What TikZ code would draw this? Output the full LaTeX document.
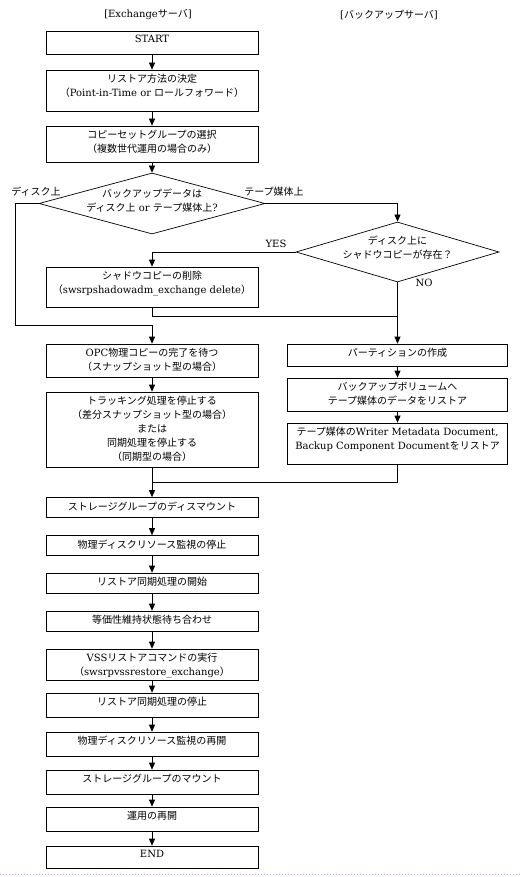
\documentclass[tikz,border=0pt]{standalone}
\usepackage{fontspec}
\setmainfont{DejaVu Serif}
\newfontfamily\jp{Noto Sans CJK JP}
\usetikzlibrary{arrows.meta,shapes.geometric}

\begin{document}
\begin{tikzpicture}[
      x=1pt, y=-1pt, line width=0.7pt,
      font=\fontsize{10}{14}\selectfont,
      box/.style = {draw, minimum width=212pt, inner sep=0pt},
      rbox/.style = {box, minimum width=220pt},
      dia/.style = {draw, diamond, inner sep=0pt},
      txt/.style = {anchor=north, align=center, inner sep=0pt, yshift=-4pt},
      dtxt/.style = {anchor=center, align=center, inner sep=0pt},
      arr/.style = {-{Triangle[width=6pt,length=7pt]}}
    ]
    \fill[white] (0,0) rectangle (520,877);
    \useasboundingbox (0,0) rectangle (520,877);

    % column headers
    \node (hdex) at (148,15) {[Exchange{\jp サーバ}]};
    \node (hdbk) at (389,15) {[{\jp バックアップサーバ}]};

    % left column
    \node[box, minimum height=23pt, label={[txt]north:START}] (start) at (152,42.5) {};
    \node[box, minimum height=41pt, label={[txt]north:{{\jp リストア方法の決定}\\{\jp （}Point-in-Time or {\jp ロールフォワード）}}}] (method) at (152,90.5) {};
    \node[box, minimum height=36pt, label={[txt]north:{{\jp コピーセットグループの選択}\\{\jp （複数世代運用の場合のみ）}}}] (copyset) at (152,144) {};
    \node[dia, minimum width=226pt, minimum height=61pt, label={[dtxt, yshift=3pt]center:{{\jp バックアップデータは}\\{\jp ディスク上} or {\jp テープ媒体上}?}}] (q1) at (152,203.5) {};
    \node[dia, minimum width=203pt, minimum height=60pt, label={[dtxt, yshift=4.5pt]center:{{\jp ディスク上に}\\{\jp シャドウコピーが存在？}}}] (q2) at (397.5,252) {};
    \node[box, minimum height=40pt, label={[txt]north:{{\jp シャドウコピーの削除}\\{\jp （}swsrpshadowadm\_exchange delete{\jp ）}}}] (shadow) at (152,287) {};
    \node[box, minimum height=33pt, label={[txt]north:{OPC{\jp 物理コピーの完了を待つ}\\{\jp （スナップショット型の場合）}}}] (opc) at (152,360.5) {};
    \node[box, minimum height=75pt, label={[txt]north:{{\jp トラッキング処理を停止する}\\{\jp （差分スナップショット型の場合）}\\{\jp または}\\{\jp 同期処理を停止する}\\{\jp （同期型の場合）}}}] (tracking) at (152,429.5) {};

    % right column
    \node[rbox, minimum height=22pt, label={[txt]north:{\jp パーティションの作成}}] (partition) at (397.5,355) {};
    \node[rbox, minimum height=33pt, label={[txt]north:{{\jp バックアップボリュームへ}\\{\jp テープ媒体のデータをリストア}}}] (backupvol) at (397.5,394.5) {};
    \node[rbox, minimum height=41pt, label={[txt]north:{{\jp テープ媒体の}Writer Metadata Document,\\Backup Component Document{\jp をリストア}}}] (tapedoc) at (397.5,443.5) {};

    % common steps
    \node[box, minimum height=20pt, label={[txt]north:{\jp ストレージグループのディスマウント}}] (dismount) at (152,507.5) {};
    \node[box, minimum height=20pt, label={[txt]north:{\jp 物理ディスクリソース監視の停止}}] (monitorstop) at (152,545.5) {};
    \node[box, minimum height=20pt, label={[txt]north:{\jp リストア同期処理の開始}}] (syncstart) at (152,583) {};
    \node[box, minimum height=20pt, label={[txt]north:{\jp 等価性維持状態待ち合わせ}}] (equiv) at (152,621) {};
    \node[box, minimum height=31pt, label={[txt]north:{VSS{\jp リストアコマンドの実行}\\{\jp （}swsrpvssrestore\_exchange{\jp ）}}}] (vss) at (152,664.5) {};
    \node[box, minimum height=24pt, label={[txt]north:{\jp リストア同期処理の停止}}] (syncstop) at (152,705) {};
    \node[box, minimum height=24pt, label={[txt]north:{\jp 物理ディスクリソース監視の再開}}] (monitorresume) at (152,744) {};
    \node[box, minimum height=24pt, label={[txt]north:{\jp ストレージグループのマウント}}] (mount) at (152,782) {};
    \node[box, minimum height=24pt, label={[txt]north:{\jp 運用の再開}}] (resume) at (152,819) {};
    \node[box, minimum height=22pt, label={[txt]north:END}] (finish) at (152,857) {};

    % branch labels
    \node (lbdisk) at (36,191.5) {\jp ディスク上};
    \node (lbtape) at (274,191.5) {\jp テープ媒体上};
    \node (lbyes) at (276,243.5) {YES};
    \node (lbno) at (424,283) {NO};

    % junction points
    \coordinate (lcorner) at (15,325);
    \coordinate (lmerge) at (152,325);
    \coordinate (rmerge) at (397.5,316);
    \coordinate (bmerge) at (152,482);

    \draw[arr] (start) -- (method);
    \draw[arr] (method) -- (copyset);
    \draw[arr] (copyset) -- (q1);
    \draw (q1.west) -| (lcorner) -- (lmerge);
    \draw[arr] (lmerge) -- (opc);
    \draw[arr] (q1.east) -| (q2.north);
    \draw[arr] (q2.west) -| (shadow.north);
    \draw (shadow.south) |- (rmerge);
    \draw[arr] (q2.south) -- (partition.north);
    \draw[arr] (partition) -- (backupvol);
    \draw[arr] (backupvol) -- (tapedoc);
    \draw[arr] (opc) -- (tracking);
    \draw (tapedoc.south) |- (bmerge);
    \draw[arr] (tracking.south) -- (dismount.north);
    \foreach \a/\b in {dismount/monitorstop, monitorstop/syncstart, syncstart/equiv,
                       equiv/vss, vss/syncstop, syncstop/monitorresume,
                       monitorresume/mount, mount/resume, resume/finish}
      \draw[arr] (\a) -- (\b);

    % page edge
    \draw[line width=1pt, dotted, blue!30] (0,874) -- (520,874);
  \end{tikzpicture}
\end{document}
